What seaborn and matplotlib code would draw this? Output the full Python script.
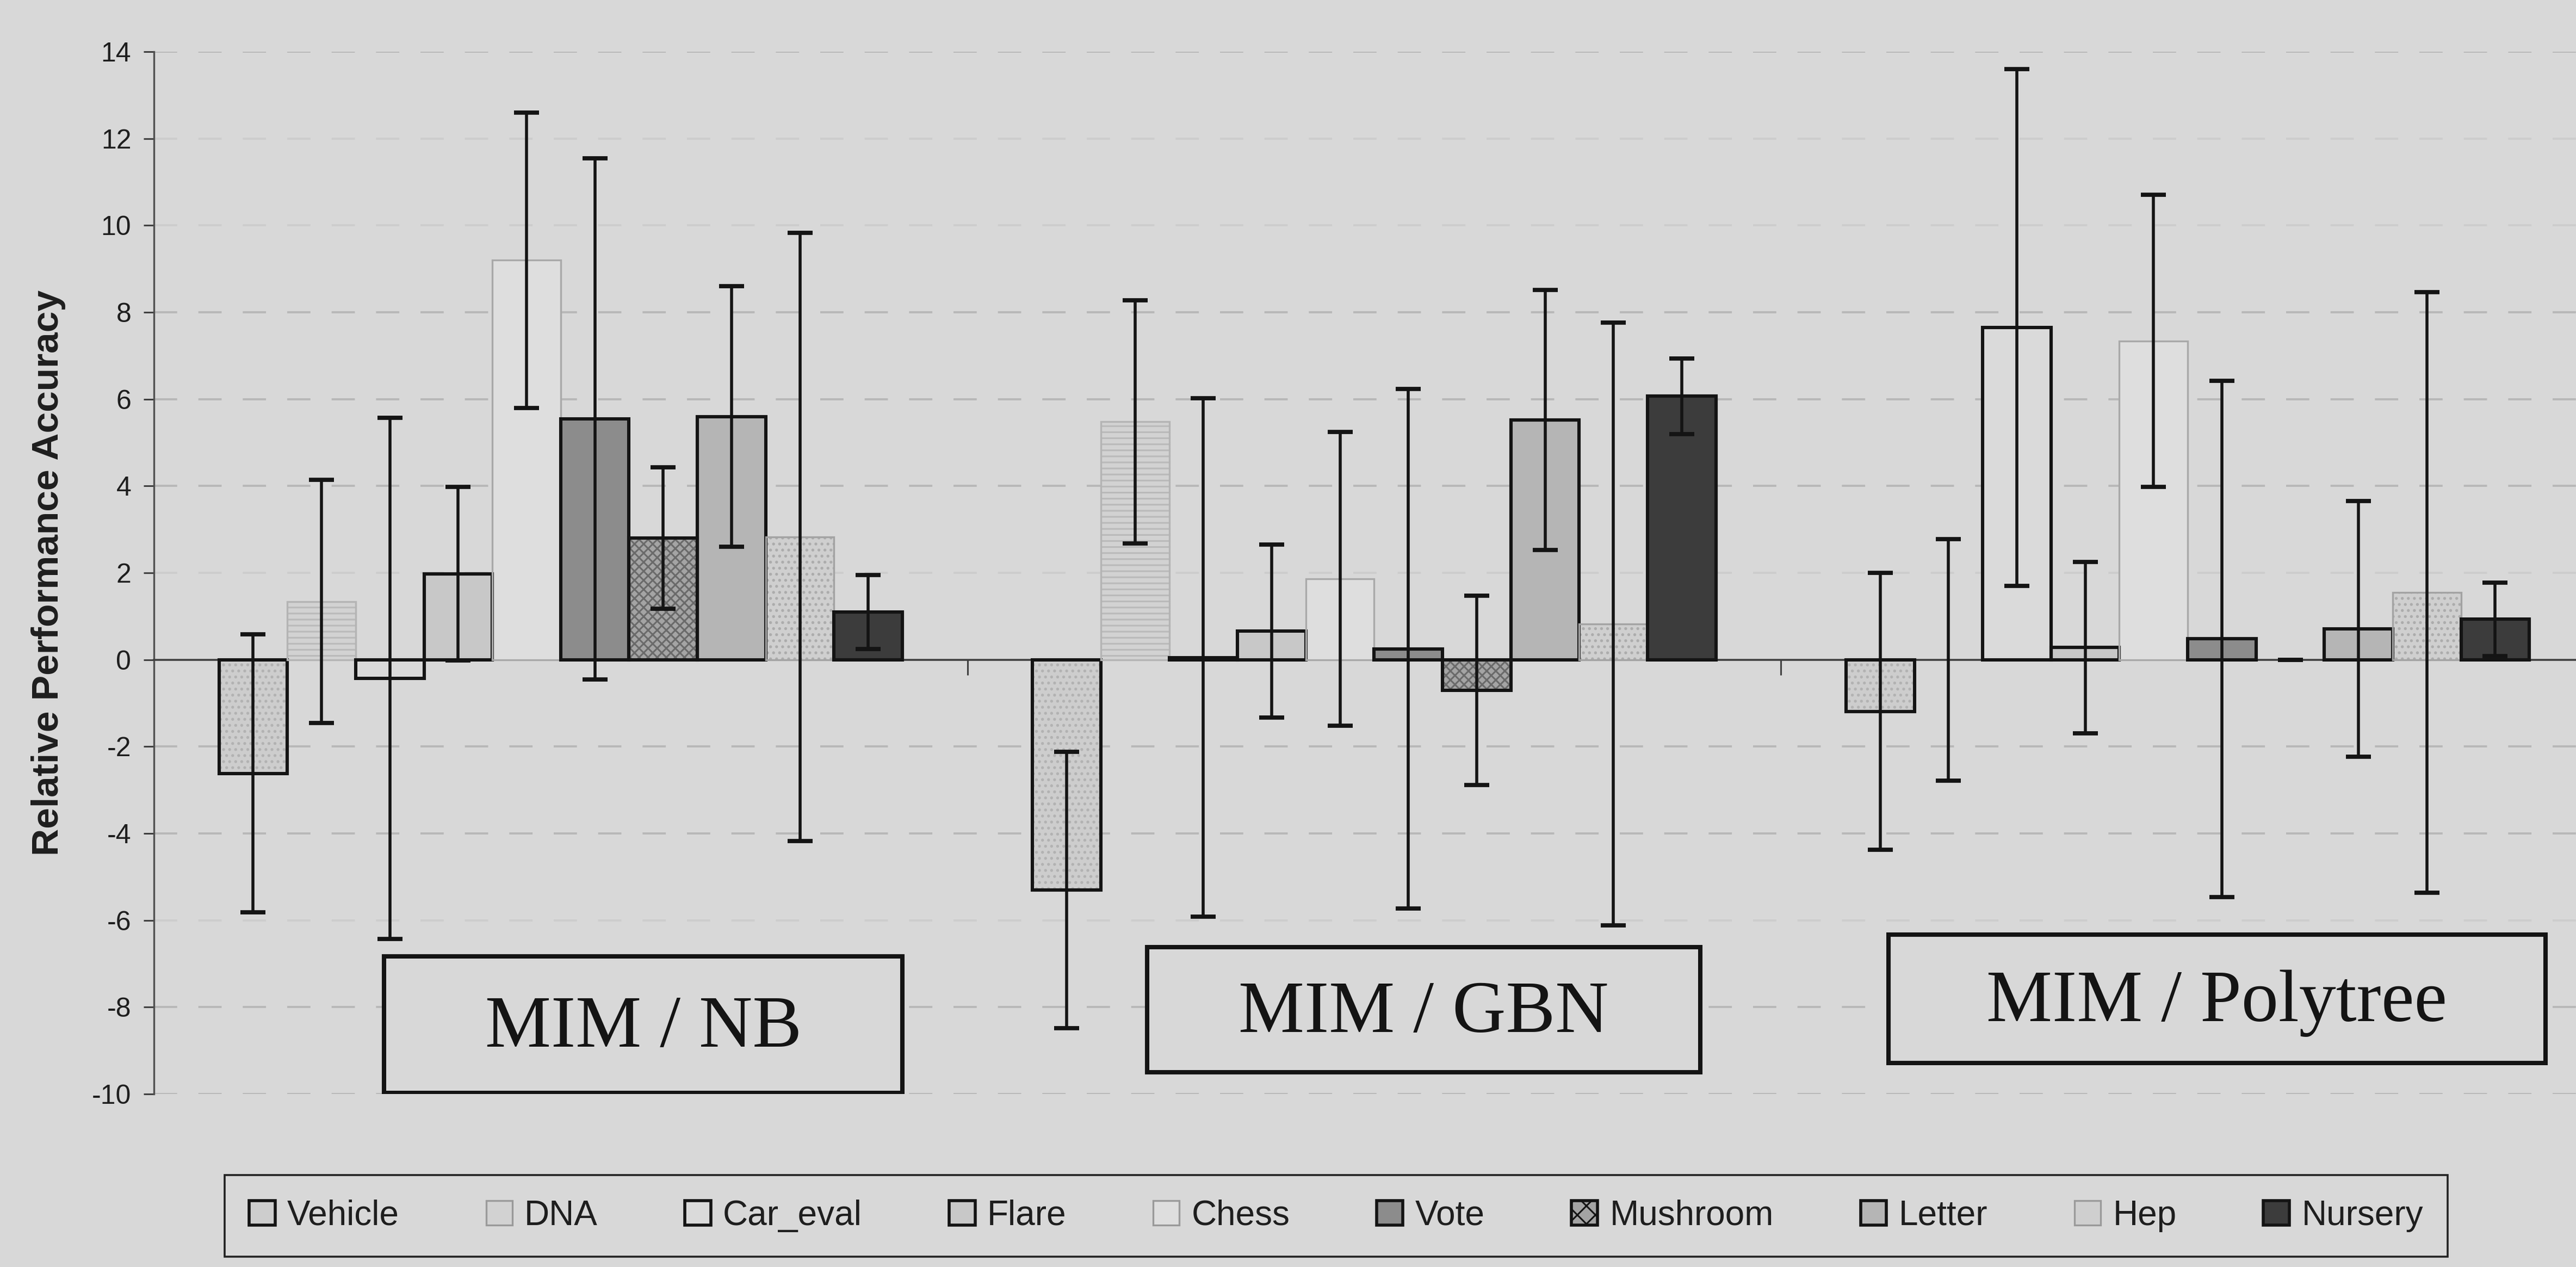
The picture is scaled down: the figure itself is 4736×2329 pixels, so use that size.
import numpy as np
import pandas as pd
import matplotlib
matplotlib.use("Agg")
import matplotlib.pyplot as plt
from matplotlib.patches import Rectangle, Patch
import seaborn as sns

# ---- data -------------------------------------------------------------
comparisons = ["MIM / NB", "MIM / GBN", "MIM / Polytree"]
datasets = ["Vehicle", "DNA", "Car_eval", "Flare", "Chess",
            "Vote", "Mushroom", "Letter", "Hep", "Nursery"]

nb_mean = [-2.62, 1.34, -0.43, 1.98, 9.20, 5.55, 2.80, 5.60, 2.83, 1.10]
nb_err = [3.20, 2.80, 6.00, 2.00, 3.40, 6.00, 1.63, 3.00, 7.00, 0.85]

gbn_mean = [-5.30, 5.48, 0.05, 0.66, 1.86, 0.25, -0.70, 5.52, 0.82, 6.07]
gbn_err = [3.18, 2.80, 5.97, 1.99, 3.38, 5.98, 2.18, 2.99, 6.94, 0.87]

poly_mean = [-1.19, 0.00, 7.65, 0.28, 7.34, 0.48, 0.00, 0.71, 1.55, 0.93]
poly_err = [3.19, 2.78, 5.95, 1.97, 3.36, 5.94, 0.00, 2.94, 6.91, 0.85]

y_ticks = list(range(-10, 15, 2))

# ---- styling ------------------------------------------------------------
BG = "#d8d8d8"
# face, edge, edge width, hatch, hatch colour
bar_style = {
    "Vehicle":  ("#cdcdcd", "#141414", 2.2, "...", "#b2b2b2"),
    "DNA":      ("#d2d2d2", "#b4b4b4", 1.2, "---", "#bababa"),
    "Car_eval": ("#dadada", "#141414", 2.2, None, None),
    "Flare":    ("#c8c8c8", "#141414", 2.2, None, None),
    "Chess":    ("#dedede", "#a9a9a9", 1.2, None, None),
    "Vote":     ("#8c8c8c", "#141414", 2.2, None, None),
    "Mushroom": ("#a4a4a4", "#141414", 2.2, "xxxx", "#6a6a6a"),
    "Letter":   ("#b5b5b5", "#141414", 2.2, None, None),
    "Hep":      ("#cfcfcf", "#a3a3a3", 1.2, "...", "#acacac"),
    "Nursery":  ("#3c3c3c", "#141414", 2.2, None, None),
}

df = pd.DataFrame({
    "comparison": np.repeat(comparisons, len(datasets)),
    "dataset": datasets * len(comparisons),
    "value": nb_mean + gbn_mean + poly_mean,
    "err": nb_err + gbn_err + poly_err,
})

sns.set_theme(style="white")
plt.rcParams["font.family"] = ["Liberation Sans", "DejaVu Sans"]
plt.rcParams["hatch.linewidth"] = 1.1

fig = plt.figure(figsize=(23.68, 11.645), dpi=200, facecolor=BG)
ax = fig.add_axes([0.05976, 0.13654, 0.9474, 0.82267])
ax.set_facecolor(BG)

palette = {d: bar_style[d][0] for d in datasets}
sns.barplot(data=df, x="comparison", y="value", hue="dataset",
            order=comparisons, hue_order=datasets, palette=palette,
            width=0.84, gap=0, errorbar=None, saturation=1,
            legend=False, ax=ax, zorder=3)

# bar textures, outlines and error bars
for container, name in zip(ax.containers, datasets):
    face, edge, lw, hatch, hcol = bar_style[name]
    sub = df[df["dataset"] == name].set_index("comparison").loc[comparisons]
    xs = []
    for patch in container:
        patch.set_linewidth(0)
        if hatch:
            patch.set_hatch(hatch)
            patch.set_edgecolor(hcol)
        else:
            patch.set_edgecolor(face)
        x, y = patch.get_x(), patch.get_y()
        w, h = patch.get_width(), patch.get_height()
        xs.append(x + w / 2)
        if abs(h) > 1e-9:
            ax.add_patch(Rectangle((x, y), w, h, fill=False, edgecolor=edge,
                                   linewidth=lw, zorder=4))
    ax.errorbar(xs, sub["value"].values, yerr=sub["err"].values, fmt="none",
                ecolor="#141414", elinewidth=2.0, capsize=8.3, capthick=2.8,
                zorder=5)

# dashed horizontal grid (some lines come out fainter)
strong = {14, 8, 6, 4, -2, -4, -8, -10}
for yv in y_ticks:
    if yv == 0:
        continue
    ax.axhline(yv, color="#b8b8b8" if yv in strong else "#cdcdcd",
               lw=1.4, ls=(0, (11, 10)), zorder=1)

ax.set_xlim(-0.5, 2.5)
ax.set_ylim(-10, 14)
ax.set_yticks(y_ticks)
ax.set_yticklabels([str(v) for v in y_ticks])
ax.set_xticks([0.5, 1.5])
ax.set_xticklabels([])
ax.set_xlabel("")
ax.tick_params(axis="x", bottom=True, direction="out", length=10, width=1.1,
               color="#404040")
ax.tick_params(axis="y", left=True, direction="out", length=7, width=1.1,
               color="#404040", labelsize=18, labelcolor="#1e1e1e", pad=8)

for side in ("top", "right"):
    ax.spines[side].set_visible(False)
ax.spines["bottom"].set_position(("data", 0))
ax.spines["bottom"].set_color("#404040")
ax.spines["bottom"].set_linewidth(1.3)
ax.spines["left"].set_color("#505050")
ax.spines["left"].set_linewidth(1.2)

ax.set_ylabel("Relative Performance Accuracy", fontsize=25,
              fontweight="bold", color="#1e1e1e")
ax.yaxis.set_label_coords(-0.036, 0.5)

# comparison captions in framed boxes
caption_boxes = [
    ("MIM / NB", -0.217, 0.420, -9.97, -6.83),
    ("MIM / GBN", 0.721, 1.401, -9.50, -6.62),
    ("MIM / Polytree", 1.632, 2.440, -9.29, -6.33),
]
for text, x0, x1, y0, y1 in caption_boxes:
    ax.add_patch(Rectangle((x0, y0), x1 - x0, y1 - y0, facecolor=BG,
                           edgecolor="#141414", linewidth=2.9, zorder=6))
    ax.text((x0 + x1) / 2, (y0 + y1) / 2 - 0.1, text, ha="center",
            va="center", fontsize=49, family=["Liberation Serif"],
            color="#141414", zorder=7)

# legend
handles = []
for name in datasets:
    face, edge, lw, hatch, hcol = bar_style[name]
    handles.append(Patch(facecolor=face, edgecolor=edge if lw > 2 else "#9a9a9a",
                         linewidth=2.0 if lw > 2 else 1.2,
                         hatch="xx" if name == "Mushroom" else None))
leg = fig.legend(handles, datasets, loc="center",
                 bbox_to_anchor=(0.5187, 0.0404), ncol=10, frameon=True,
                 fancybox=False, edgecolor="#222222", facecolor=BG,
                 framealpha=1, fontsize=23, handlelength=0.75,
                 handleheight=0.7, handletextpad=0.35, columnspacing=2.5,
                 borderpad=0.7)
leg.get_frame().set_linewidth(1.3)
for t in leg.get_texts():
    t.set_color("#1e1e1e")

fig.savefig("out.png", dpi=200, facecolor=BG)
